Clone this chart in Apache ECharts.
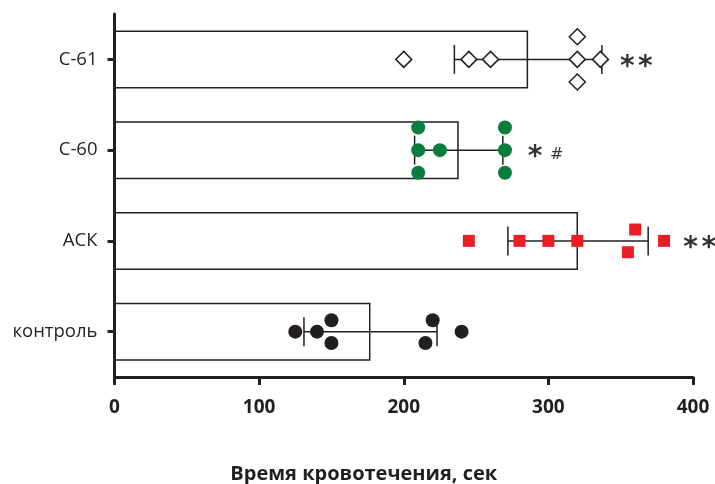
<!DOCTYPE html>
<html>
<head>
<meta charset="utf-8">
<script src="https://cdn.jsdelivr.net/npm/echarts@6/dist/echarts.min.js"></script>
<style>html,body{margin:0;padding:0;background:#fff;}#c{width:715px;height:484px;}</style>
</head>
<body>
<div id="c"></div>
<script>
// ---- data ----
var categories = ['контроль', 'АСК', 'С-60', 'С-61'];
var means = [177, 320.5, 238, 286];
var sds = [46, 48.5, 30.5, 51];
var xTicks = [0, 100, 200, 300, 400];
var axisTitle = 'Время кровотечения, сек';

var pointsControl = [125, 140, 150, 150, 220, 215, 240];
var slotsControl  = [0, 0, 1, -1, 1, -1, 0];
var pointsASK = [245, 280, 300, 320, 360, 355, 380];
var slotsASK  = [0, 0, 0, 0, 1, -1, 0];
var pointsC60 = [210, 210, 210, 225, 270, 270, 270];
var slotsC60  = [2, 0, -2, 0, 2, 0, -2];
var pointsC61 = [200, 245, 260, 320, 320, 320, 336];
var slotsC61  = [0, 0, 0, 2, 0, -2, 0];

var marks = ['**', '*#', '**'];
var markCats = [3, 2, 1];

// ---- build ----
var INK = '#231f20';
var FONT = '"Open Sans", "Noto Sans", sans-serif';
var slotStep = 0.125;

function pts(vals, slots, idx) {
  return vals.map(function (v, i) { return [v, idx + slots[i] * slotStep]; });
}

var errData = means.map(function (m, i) { return [i, m - sds[i], m + sds[i]]; });
var markGap = [18, 25, 35];
var markData = markCats.map(function (ci, k) {
  var s = marks[k];
  var txt = s.split('').map(function (ch) { return ch === '#' ? '{b|#}' : '{a|*}'; }).join('{g|\u2009}');
  return { value: [means[ci] + sds[ci], categories[ci]], label: { distance: markGap[k], formatter: txt } };
});

var chart = echarts.init(document.getElementById('c'));
chart.setOption({
  animation: false,
  backgroundColor: '#fff',
  grid: { left: 114.5, right: 22, top: 14, bottom: 107, containLabel: false, outerBoundsMode: 'none' },
  xAxis: {
    type: 'value', min: 0, max: 400, interval: 100,
    name: axisTitle, nameLocation: 'middle', nameGap: 87,
    nameTextStyle: { fontFamily: FONT, fontWeight: 'bold', fontSize: 20, color: INK, padding: [0, 80, 0, 0] },
    axisLine: { show: true, onZero: false, lineStyle: { color: INK, width: 3 } },
    axisTick: { show: true, length: 8, lineStyle: { color: INK, width: 3 } },
    axisLabel: { margin: 21, fontFamily: FONT, fontWeight: 'bold', fontSize: 19, color: INK },
    splitLine: { show: false }
  },
  yAxis: [{
    type: 'category', data: categories,
    axisLine: { show: true, onZero: false, lineStyle: { color: INK, width: 3 } },
    axisTick: { show: true, alignWithLabel: true, length: 7, lineStyle: { color: INK, width: 3 } },
    axisLabel: { margin: 17, fontFamily: FONT, fontSize: 18.5, color: INK }
  }, {
    type: 'value', min: -0.5, max: 3.5, show: false,
    axisLine: { show: false }, axisTick: { show: false }, axisLabel: { show: false }, splitLine: { show: false }
  }],
  series: [
    {
      type: 'bar', data: means, barWidth: 58, yAxisIndex: 0,
      itemStyle: { color: '#fff', borderColor: INK, borderWidth: 1.5 }, z: 1
    },
    {
      type: 'custom', yAxisIndex: 0, z: 3,
      data: errData,
      renderItem: function (params, api) {
        var lo = api.coord([api.value(1), api.value(0)]);
        var hi = api.coord([api.value(2), api.value(0)]);
        var h = 14.5;
        var st = { stroke: INK, lineWidth: 1.5 };
        return { type: 'group', children: [
          { type: 'line', shape: { x1: lo[0], y1: lo[1], x2: hi[0], y2: hi[1] }, style: st },
          { type: 'line', shape: { x1: lo[0], y1: lo[1] - h, x2: lo[0], y2: lo[1] + h }, style: st },
          { type: 'line', shape: { x1: hi[0], y1: hi[1] - h, x2: hi[0], y2: hi[1] + h }, style: st }
        ] };
      },
      encode: { x: [1, 2], y: 0 }
    },
    {
      type: 'scatter', yAxisIndex: 1, z: 5, symbol: 'circle', symbolSize: 14,
      itemStyle: { color: INK, opacity: 1 }, data: pts(pointsControl, slotsControl, 0)
    },
    {
      type: 'scatter', yAxisIndex: 1, z: 5, symbol: 'rect', symbolSize: 12,
      itemStyle: { color: '#ed1c24', opacity: 1 }, data: pts(pointsASK, slotsASK, 1)
    },
    {
      type: 'scatter', yAxisIndex: 1, z: 5, symbol: 'circle', symbolSize: 14,
      itemStyle: { color: '#0a7d3e', opacity: 1 }, data: pts(pointsC60, slotsC60, 2)
    },
    {
      type: 'scatter', yAxisIndex: 1, z: 5, symbol: 'diamond', symbolSize: [16, 16],
      itemStyle: { color: '#fff', borderColor: INK, borderWidth: 1.5, opacity: 1 }, data: pts(pointsC61, slotsC61, 3)
    },
    {
      type: 'scatter', yAxisIndex: 0, z: 6, symbolSize: 0, silent: true,
      data: markData,
      label: {
        show: true, position: 'right', offset: [0, 8],
        rich: {
          a: { fontFamily: '"DejaVu Sans", sans-serif', fontWeight: 'bold', fontSize: 28, color: '#000' },
          g: { fontFamily: '"DejaVu Sans", sans-serif', fontSize: 18, color: '#000' },
          b: { fontFamily: '"DejaVu Sans", sans-serif', fontSize: 16, color: '#000', padding: [0, 0, 7, 4] }
        }
      }
    }
  ]
});
</script>
</body>
</html>
